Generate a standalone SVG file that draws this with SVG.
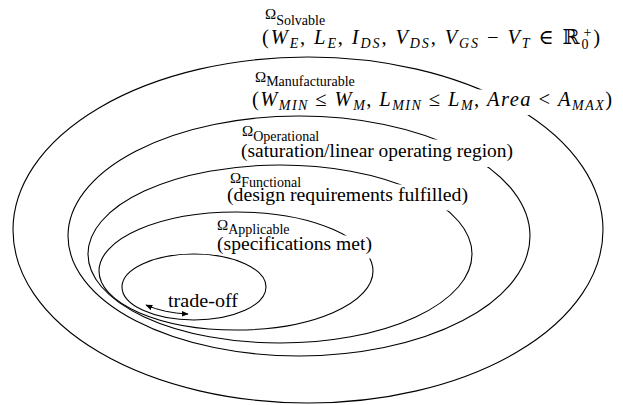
<svg xmlns="http://www.w3.org/2000/svg" width="623" height="405" viewBox="0 0 623 405">
<defs>
<style>
.r{fill:none;stroke:#000;stroke-width:1.1}
.w{fill:#fff;stroke:none}
.om{font-size:15px}
.sb{font-size:14px}
.p{font-size:19.5px}
.m{font-size:20.5px}
.i{font-style:italic}
.s{font-size:14px}
</style>
<marker id="ah" viewBox="0 0 10 10" refX="9" refY="5" markerWidth="7" markerHeight="7" orient="auto-start-reverse" markerUnits="userSpaceOnUse">
<path d="M0,1 L10,5 L0,9 Z" fill="#000"/>
</marker>
</defs>
<rect width="623" height="405" fill="#fff"/>

<g font-family="Liberation Serif, Times New Roman, DejaVu Serif, serif" fill="#000">
<g id="solvable">
<text x="265" y="19" class="om">Ω<tspan class="sb" dy="6">Solvable</tspan></text>
<text x="262" y="44" class="m" textLength="338" lengthAdjust="spacing">(<tspan class="i">W</tspan><tspan class="i s" dy="4">E</tspan><tspan dy="-4">, </tspan><tspan class="i">L</tspan><tspan class="i s" dy="4">E</tspan><tspan dy="-4">, </tspan><tspan class="i">I</tspan><tspan class="i s" dy="4">DS</tspan><tspan dy="-4">, </tspan><tspan class="i">V</tspan><tspan class="i s" dy="4">DS</tspan><tspan dy="-4">, </tspan><tspan class="i">V</tspan><tspan class="i s" dy="4">GS</tspan><tspan dy="-4"> − </tspan><tspan class="i">V</tspan><tspan class="i s" dy="4">T</tspan><tspan dy="-4"> ∈ ℝ</tspan><tspan class="s" dy="5">0</tspan><tspan class="s" dx="-7" dy="-12">+</tspan><tspan dy="7">)</tspan></text>
</g>

<g id="manufacturable">
<ellipse class="r" cx="308" cy="230" rx="295" ry="173"/>
<rect class="w" x="250" y="89.5" width="366" height="25.5"/>
<text x="255" y="82" class="om">Ω<tspan class="sb" dy="4">Manufacturable</tspan></text>
<text x="252" y="106" class="m" textLength="360" lengthAdjust="spacing">(<tspan class="i">W</tspan><tspan class="i s" dy="4">MIN</tspan><tspan dy="-4"> ≤ </tspan><tspan class="i">W</tspan><tspan class="i s" dy="4">M</tspan><tspan dy="-4">,  </tspan><tspan class="i">L</tspan><tspan class="i s" dy="4">MIN</tspan><tspan dy="-4"> ≤ </tspan><tspan class="i">L</tspan><tspan class="i s" dy="4">M</tspan><tspan dy="-4">,  </tspan><tspan class="i">Area</tspan><tspan> &lt; </tspan><tspan class="i">A</tspan><tspan class="i s" dy="4">MAX</tspan><tspan dy="-4">)</tspan></text>
</g>

<g id="operational">
<ellipse class="r" cx="299" cy="236" rx="231" ry="120"/>
<rect class="w" x="238" y="139.5" width="280" height="27.5"/>
<text x="242" y="136" class="om">Ω<tspan class="sb" dy="4.5">Operational</tspan></text>
<text x="241" y="157" class="p" textLength="272" lengthAdjust="spacingAndGlyphs">(saturation/linear operating region)</text>
</g>

<g id="functional">
<ellipse class="r" cx="280" cy="254" rx="192" ry="89"/>
<rect class="w" x="224" y="184.5" width="248" height="26"/>
<text x="230" y="183" class="om">Ω<tspan class="sb" dy="4">Functional</tspan></text>
<text x="227" y="201" class="p" textLength="241" lengthAdjust="spacingAndGlyphs">(design requirements fulfilled)</text>
</g>

<g id="applicable">
<ellipse class="r" cx="236" cy="271" rx="137" ry="59"/>
<rect class="w" x="214" y="235.5" width="164" height="23"/>
<text x="217" y="230" class="om">Ω<tspan class="sb" dy="4">Applicable</tspan></text>
<text x="217" y="250" class="p" textLength="155" lengthAdjust="spacingAndGlyphs">(specifications met)</text>
</g>

<g id="tradeoff">
<ellipse class="r" cx="194" cy="287" rx="72" ry="33"/>
<text x="168" y="307" class="p" textLength="70" lengthAdjust="spacingAndGlyphs">trade-off</text>
</g>
</g>

<g id="connectors">
<path d="M146,305 Q164,313 188,314" fill="none" stroke="#000" stroke-width="1" marker-start="url(#ah)" marker-end="url(#ah)"/>
</g>
</svg>
